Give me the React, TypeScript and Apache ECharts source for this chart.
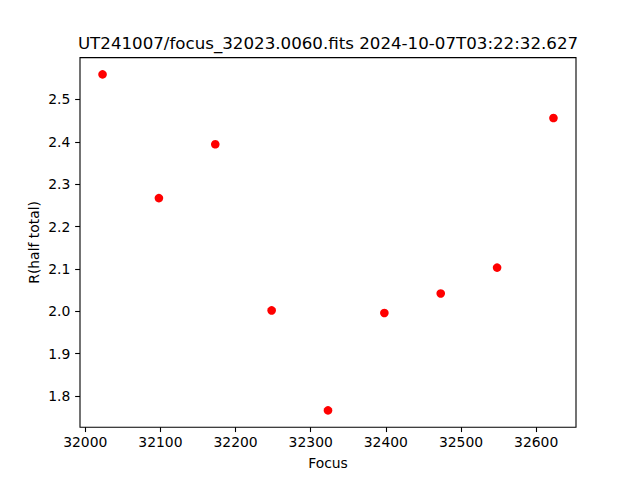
import React, { useEffect, useRef } from "react";
import * as echarts from "echarts";

const titleText = "UT241007/focus_32023.0060.fits 2024-10-07T03:22:32.627";
const xLabel = "Focus";
const yLabel = "R(half total)";
const focusValues = [32023, 32098, 32173, 32248, 32323, 32398, 32473, 32548, 32623];
const rValues = [2.559, 2.267, 2.394, 2.002, 1.766, 1.996, 2.042, 2.103, 2.456];
const xTicks = [32000, 32100, 32200, 32300, 32400, 32500, 32600];
const yTicks = [1.8, 1.9, 2.0, 2.1, 2.2, 2.3, 2.4, 2.5];

export default function App() {
  const ref = useRef<HTMLDivElement>(null);
  useEffect(() => {
    if (!ref.current) return;
    const chart = echarts.init(ref.current, undefined, { renderer: "svg" });
    const xMinD = Math.min(...focusValues);
    const xMaxD = Math.max(...focusValues);
    const xPad = (xMaxD - xMinD) * 0.05;
    const yMinD = Math.min(...rValues);
    const yMaxD = Math.max(...rValues);
    const yPad = (yMaxD - yMinD) * 0.05;
    const font = "DejaVu Sans";
    chart.setOption({
      animation: false,
      backgroundColor: "#ffffff",
      textStyle: { fontFamily: font },
      grid: {
        left: 80,
        right: 64,
        top: 57.6,
        bottom: 52.8,
        show: true,
        borderColor: "#000000",
        borderWidth: 1.1,
        backgroundColor: "transparent",
      },
      graphic: [
        {
          type: "text",
          x: 328,
          y: 43.5,
          style: {
            text: titleText,
            textAlign: "center",
            textVerticalAlign: "middle",
            fontFamily: font,
            fontSize: 16.67,
            fill: "#000000",
          },
        },
      ],
      xAxis: {
        type: "value",
        min: xMinD - xPad,
        max: xMaxD + xPad,
        name: xLabel,
        nameLocation: "middle",
        nameGap: 29,
        nameMoveOverlap: false,
        nameTextStyle: { fontFamily: font, fontSize: 13.9, color: "#000000" },
        axisLine: { show: false },
        splitLine: { show: false },
        axisTick: {
          show: true,
          length: 4.86,
          lineStyle: { color: "#000000", width: 1.1 },
          customValues: xTicks,
        },
        axisLabel: {
          fontFamily: font,
          fontSize: 13.9,
          color: "#000000",
          margin: 8,
          customValues: xTicks,
          formatter: (v: number) => String(v),
        },
      },
      yAxis: {
        type: "value",
        min: yMinD - yPad,
        max: yMaxD + yPad,
        name: yLabel,
        nameLocation: "middle",
        nameGap: 39,
        nameRotate: 90,
        nameMoveOverlap: false,
        nameTextStyle: { fontFamily: font, fontSize: 13.9, color: "#000000" },
        axisLine: { show: false },
        splitLine: { show: false },
        axisTick: {
          show: true,
          length: 4.86,
          lineStyle: { color: "#000000", width: 1.1 },
          customValues: yTicks,
        },
        axisLabel: {
          fontFamily: font,
          fontSize: 13.9,
          color: "#000000",
          margin: 9.7,
          customValues: yTicks,
          formatter: (v: number) => v.toFixed(1),
        },
      },
      series: [
        {
          type: "scatter",
          data: focusValues.map((x, i) => [x, rValues[i]]),
          symbol: "circle",
          symbolSize: 8.6,
          itemStyle: { color: "#ff0000", opacity: 1 },
        },
      ],
    });
    return () => chart.dispose();
  }, []);
  return <div ref={ref} style={{ width: 640, height: 480, position: "absolute", left: 0, top: 0 }} />;
}
